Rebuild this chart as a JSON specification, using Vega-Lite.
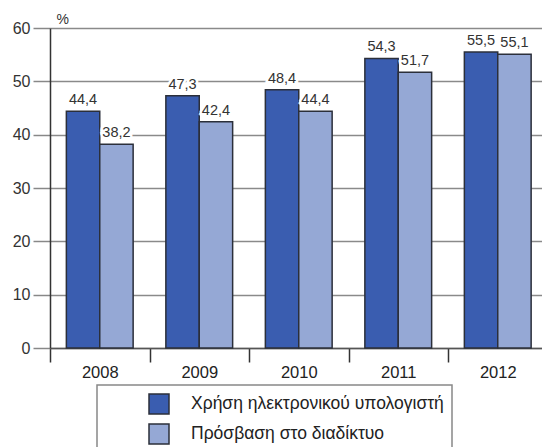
{
  "$schema": "https://vega.github.io/schema/vega-lite/v6.json",
  "width": 492,
  "height": 320,
  "autosize": {"type": "none"},
  "padding": {"left": 50, "top": 28, "right": 0, "bottom": 99},
  "background": "white",
  "config": {
    "view": {"stroke": null},
    "font": "Liberation Sans",
    "locale": {"number": {"decimal": ",", "thousands": ".", "grouping": [3], "currency": ["", " €"]}},
    "legend": {"strokeWidth": 1.5}
  },
  "data": {
    "values": [
      {"year": "2008", "series": "Χρήση ηλεκτρονικού υπολογιστή", "value": 44.4},
      {"year": "2008", "series": "Πρόσβαση στο διαδίκτυο", "value": 38.2},
      {"year": "2009", "series": "Χρήση ηλεκτρονικού υπολογιστή", "value": 47.3},
      {"year": "2009", "series": "Πρόσβαση στο διαδίκτυο", "value": 42.4},
      {"year": "2010", "series": "Χρήση ηλεκτρονικού υπολογιστή", "value": 48.4},
      {"year": "2010", "series": "Πρόσβαση στο διαδίκτυο", "value": 44.4},
      {"year": "2011", "series": "Χρήση ηλεκτρονικού υπολογιστή", "value": 54.3},
      {"year": "2011", "series": "Πρόσβαση στο διαδίκτυο", "value": 51.7},
      {"year": "2012", "series": "Χρήση ηλεκτρονικού υπολογιστή", "value": 55.5},
      {"year": "2012", "series": "Πρόσβαση στο διαδίκτυο", "value": 55.1}
    ]
  },
  "encoding": {
    "x": {
      "field": "year", "type": "nominal",
      "scale": {"range": [0, 497.5], "paddingInner": 0, "paddingOuter": 0},
      "axis": {
        "title": null, "labelAngle": 0, "labelFontSize": 16.5, "labelColor": "#222",
        "labelPadding": 2, "tickBand": "extent", "tickSize": 14, "tickColor": "#333",
        "tickWidth": 1.5, "domainColor": "#555", "domainWidth": 1.5, "grid": false
      }
    },
    "xOffset": {
      "field": "series", "type": "nominal",
      "scale": {"domain": ["Χρήση ηλεκτρονικού υπολογιστή", "Πρόσβαση στο διαδίκτυο"], "paddingInner": 0, "paddingOuter": 0.49}
    },
    "y": {
      "field": "value", "type": "quantitative",
      "scale": {"domain": [0, 60], "nice": false},
      "axis": {
        "values": [0, 10, 20, 30, 40, 50, 60], "format": "d",
        "title": "%", "titleAngle": 0, "titleAlign": "left", "titleBaseline": "alphabetic",
        "titleX": 6, "titleY": -5, "titleFontSize": 14, "titleFontWeight": "normal", "titleColor": "#333",
        "labelFontSize": 16, "labelColor": "#333", "labelPadding": 3,
        "tickSize": 17, "tickColor": "#888", "tickWidth": 1.5,
        "grid": true, "gridColor": "#8a8a8a", "gridWidth": 1.5,
        "domainColor": "#333", "domainWidth": 1.5
      }
    }
  },
  "layer": [
    {
      "mark": {"type": "bar", "stroke": "#2b2f3a", "strokeWidth": 1.5},
      "encoding": {
        "color": {
          "field": "series", "type": "nominal",
          "scale": {"domain": ["Χρήση ηλεκτρονικού υπολογιστή", "Πρόσβαση στο διαδίκτυο"], "range": ["#3a5db0", "#95a8d5"]},
          "legend": {
            "title": null, "orient": "none", "legendX": 47, "legendY": 357,
            "padding": 8, "symbolOffset": 43, "symbolType": "square", "symbolSize": 400,
            "symbolStrokeColor": "#2b2f3a", "symbolStrokeWidth": 1.5,
            "labelFontSize": 17.5, "labelColor": "#222", "labelOffset": 21, "labelLimit": 400,
            "rowPadding": 4, "strokeColor": "#888"
          }
        }
      }
    },
    {
      "mark": {"type": "text", "dy": -7, "baseline": "alphabetic", "stroke": "white", "strokeWidth": 5, "fontSize": 14.5},
      "encoding": {"text": {"field": "value", "type": "quantitative", "format": ".1f"}}
    },
    {
      "mark": {"type": "text", "dy": -7, "baseline": "alphabetic", "fill": "#333", "fontSize": 14.5},
      "encoding": {"text": {"field": "value", "type": "quantitative", "format": ".1f"}}
    }
  ]
}
